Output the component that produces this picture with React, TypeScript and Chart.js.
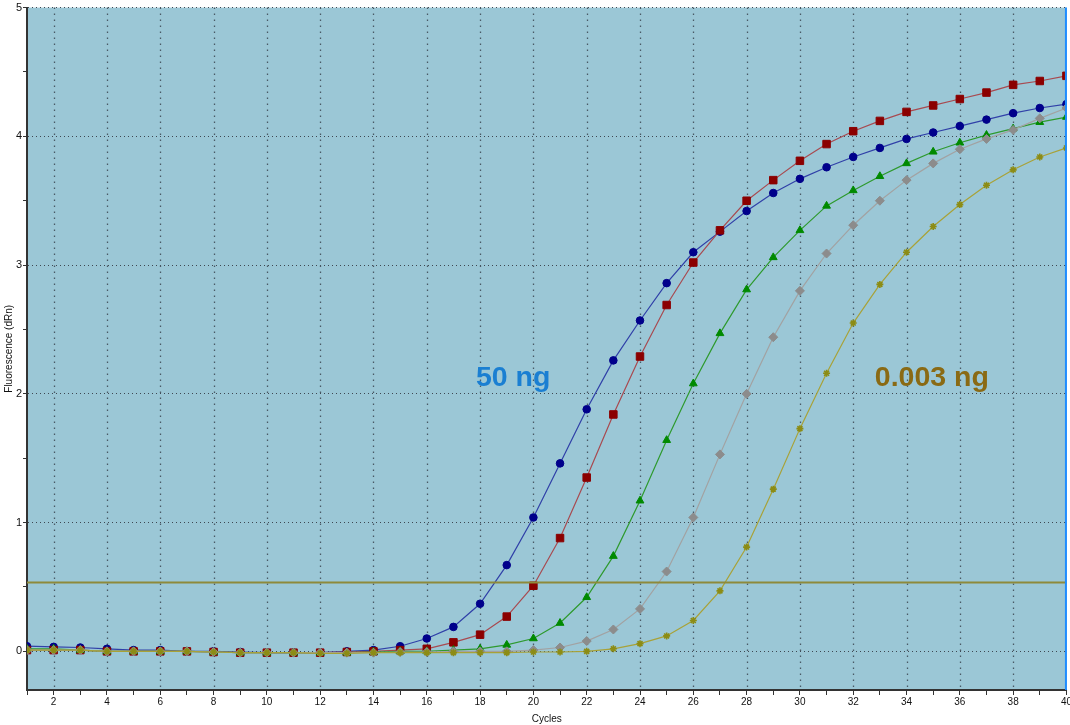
import React, { useEffect, useRef } from "react";
import { Chart, registerables } from "chart.js";

Chart.register(...registerables);

const cycles = Array.from({ length: 40 }, (_, i) => i + 1);

const ng50 = [0.04, 0.035, 0.03, 0.02, 0.01, 0.01, 0.0, 0.0, -0.005, -0.01, -0.01, -0.01, 0.0, 0.01, 0.04, 0.10, 0.19, 0.37, 0.67, 1.04, 1.46, 1.88, 2.26, 2.57, 2.86, 3.10, 3.26, 3.42, 3.56, 3.67, 3.76, 3.84, 3.91, 3.98, 4.03, 4.08, 4.13, 4.18, 4.22, 4.25];
const ng5 = [0.01, 0.01, 0.01, 0.0, 0.0, 0.0, 0.0, -0.005, -0.01, -0.01, -0.01, -0.01, -0.005, 0.0, 0.01, 0.02, 0.07, 0.13, 0.27, 0.51, 0.88, 1.35, 1.84, 2.29, 2.69, 3.02, 3.27, 3.50, 3.66, 3.81, 3.94, 4.04, 4.12, 4.19, 4.24, 4.29, 4.34, 4.40, 4.43, 4.47];
const ng05 = [0.02, 0.02, 0.01, 0.0, 0.0, 0.0, 0.0, -0.005, -0.01, -0.01, -0.01, -0.01, -0.01, -0.005, 0.0, 0.0, 0.01, 0.02, 0.05, 0.10, 0.22, 0.42, 0.74, 1.17, 1.64, 2.08, 2.47, 2.81, 3.06, 3.27, 3.46, 3.58, 3.69, 3.79, 3.88, 3.95, 4.01, 4.06, 4.11, 4.15];
const ng005 = [0.01, 0.01, 0.01, 0.0, 0.0, 0.0, 0.0, -0.005, -0.01, -0.01, -0.01, -0.01, -0.01, -0.01, -0.005, -0.005, 0.0, 0.0, 0.0, 0.01, 0.03, 0.08, 0.17, 0.33, 0.62, 1.04, 1.53, 2.00, 2.44, 2.80, 3.09, 3.31, 3.50, 3.66, 3.79, 3.90, 3.98, 4.05, 4.14, 4.22];
const ng0003 = [0.01, 0.01, 0.01, 0.0, 0.0, 0.0, 0.0, -0.005, -0.01, -0.01, -0.01, -0.015, -0.015, -0.01, -0.01, -0.01, -0.01, -0.01, -0.01, -0.005, -0.005, 0.0, 0.02, 0.06, 0.12, 0.24, 0.47, 0.81, 1.26, 1.73, 2.16, 2.55, 2.85, 3.10, 3.30, 3.47, 3.62, 3.74, 3.84, 3.91];

const threshold = 0.535;
const yTicks = [0, 0.5, 1, 1.5, 2, 2.5, 3, 3.5, 4, 4.5, 5];
const xGridCycles = [2, 4, 6, 8, 10, 12, 14, 16, 18, 20, 22, 24, 26, 28, 30, 32, 34, 36, 38];
const labels = [
  { text: "50 ng", x: 19.24, y: 2.12, color: "#1A7FD2" },
  { text: "0.003 ng", x: 34.95, y: 2.12, color: "#8A6A14" },
];

const FONT = "'Liberation Sans', Arial, sans-serif";

const pts = (arr: number[]) => arr.map((v, i) => ({ x: cycles[i], y: v }));

const bgPlugin = {
  id: "bg",
  beforeDraw(chart: any) {
    const { ctx, chartArea: a } = chart;
    ctx.save();
    ctx.fillStyle = "#9BC7D6";
    ctx.fillRect(a.left, a.top, a.right - a.left, a.bottom - a.top);
    ctx.restore();
  },
  beforeDatasetsDraw(chart: any) {
    const { ctx, chartArea: a, scales } = chart;
    const xs = scales.x;
    ctx.save();
    ctx.strokeStyle = "#4A5A66";
    ctx.lineWidth = 1.3;
    ctx.setLineDash([1.5, 4.5]);
    for (const c of xGridCycles) {
      const px = Math.round(xs.getPixelForValue(c)) + 0.5;
      ctx.beginPath();
      ctx.moveTo(px, a.top);
      ctx.lineTo(px, a.bottom);
      ctx.stroke();
    }
    ctx.restore();
  },
  afterDatasetsDraw(chart: any) {
    const { ctx, chartArea: a, scales } = chart;
    const xs = scales.x;
    const ys = scales.y;
    ctx.save();
    const xr = xs.getPixelForValue(cycles[cycles.length - 1]);
    ctx.strokeStyle = "#1E8CFF";
    ctx.lineWidth = 2;
    ctx.beginPath();
    ctx.moveTo(xr - 0.5, a.top);
    ctx.lineTo(xr - 0.5, a.bottom);
    ctx.stroke();
    ctx.font = `bold 28.5px ${FONT}`;
    ctx.textAlign = "center";
    ctx.textBaseline = "middle";
    for (const l of labels) {
      ctx.fillStyle = l.color;
      ctx.fillText(l.text, xs.getPixelForValue(l.x), ys.getPixelForValue(l.y));
    }
    ctx.restore();
  },
};

export default function App() {
  const ref = useRef<HTMLCanvasElement>(null);
  useEffect(() => {
    if (!ref.current) return;
    const mk = (data: number[], line: string, pt: string, style: any, radius: number, extra: any = {}) => ({
      data: pts(data),
      borderColor: line,
      backgroundColor: pt,
      pointBackgroundColor: pt,
      pointBorderColor: pt,
      pointStyle: style,
      pointRadius: radius,
      pointBorderWidth: 1,
      borderWidth: 1.2,
      tension: 0,
      ...extra,
    });
    const chart = new Chart(ref.current, {
      type: "line",
      data: {
        datasets: [
          {
            data: [
              { x: cycles[0], y: threshold },
              { x: cycles[cycles.length - 1], y: threshold },
            ],
            borderColor: "#8E8A3A",
            borderWidth: 2,
            pointRadius: 0,
          } as any,
          mk(ng0003, "#A8A238", "#8C8C14", "star", 3.5, { pointBorderWidth: 1.6 }),
          mk(ng005, "#A2A2A2", "#8C8C8C", "rectRot", 4.5),
          mk(ng05, "#2E9A2E", "#008A00", "triangle", 4.5),
          mk(ng5, "#A84A50", "#8B0000", "rect", 5.3),
          mk(ng50, "#3040A8", "#00008B", "circle", 3.8),
        ],
      },
      options: {
        animation: false,
        responsive: false,
        maintainAspectRatio: false,
        layout: { padding: { top: 6, right: 0, left: 0, bottom: 0 } },
        plugins: { legend: { display: false }, tooltip: { enabled: false } },
        scales: {
          x: {
            type: "linear",
            min: 1,
            max: 40,
            afterBuildTicks(scale: any) {
              scale.ticks = cycles.map((v) => ({ value: v }));
            },
            afterFit(scale: any) {
              scale.height = 35;
            },
            ticks: {
              autoSkip: false,
              maxRotation: 0,
              padding: 1,
              color: "#111",
              font: { family: FONT, size: 10 },
              callback: (v: any) => (Number(v) % 2 === 0 ? String(v) : ""),
            },
            grid: {
              drawOnChartArea: false,
              color: "rgba(0,0,0,0)",
              tickColor: "#333",
              tickLength: 5,
              lineWidth: 1,
            },
            border: { color: "#333", width: 2 },
            title: {
              display: true,
              text: "Cycles",
              color: "#111",
              font: { family: FONT, size: 10 },
              padding: { top: 2, bottom: 0 },
            },
          },
          y: {
            type: "linear",
            min: -0.3,
            max: 5,
            afterBuildTicks(scale: any) {
              scale.ticks = yTicks.map((v) => ({ value: v }));
            },
            afterFit(scale: any) {
              scale.width = 27;
            },
            ticks: {
              autoSkip: false,
              padding: 1,
              color: "#111",
              font: { family: FONT, size: 11 },
              callback: (v: any) => (Number.isInteger(Number(v)) ? String(v) : ""),
            },
            grid: {
              color: (c: any) => (c.tick && Number.isInteger(c.tick.value) ? "#3E4852" : "rgba(0,0,0,0)"),
              tickColor: "#333",
              tickLength: 4,
              lineWidth: 1,
            },
            border: { color: "#333", width: 2, dash: [1, 3] },
            title: {
              display: true,
              text: "Fluorescence (dRn)",
              color: "#111",
              font: { family: FONT, size: 10 },
              padding: { top: 3, bottom: 0 },
            },
          },
        },
      } as any,
      plugins: [bgPlugin],
    });
    return () => chart.destroy();
  }, []);
  return (
    <div style={{ position: "absolute", left: 0, top: 0, width: 1070, height: 725, overflow: "hidden" }}>
      <canvas ref={ref} width={1073} height={725} style={{ width: 1073, height: 725, display: "block" }} />
    </div>
  );
}
